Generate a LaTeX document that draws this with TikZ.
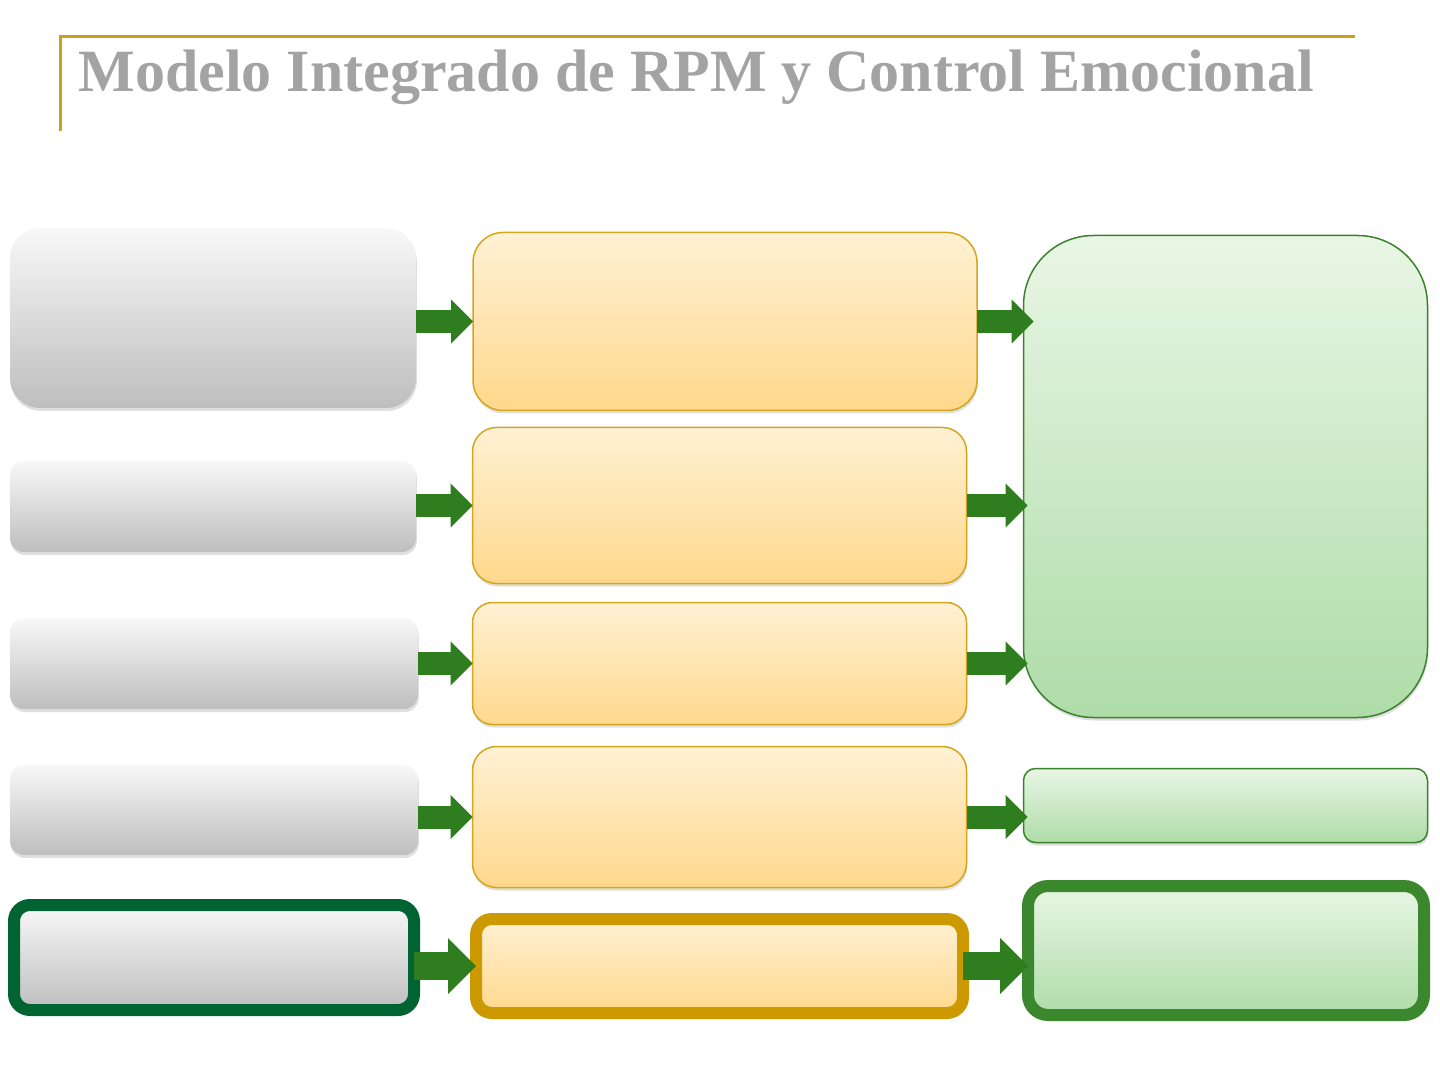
\documentclass[tikz,border=0pt]{standalone}
\usepackage{fontspec}
\setmainfont{Liberation Serif}
\usetikzlibrary{arrows.meta}
\usetikzlibrary{shadows}

\definecolor{rulegold}{RGB}{201,161,27}
\definecolor{titlegray}{RGB}{163,163,163}
\definecolor{arrowgreen}{RGB}{46,125,31}
\definecolor{graytop}{RGB}{248,248,248}
\definecolor{graybot}{RGB}{190,190,190}
\definecolor{orangetop}{RGB}{255,241,212}
\definecolor{orangebot}{RGB}{255,216,140}
\definecolor{orangeline}{RGB}{214,165,30}
\definecolor{greentop}{RGB}{233,246,229}
\definecolor{greenbot}{RGB}{174,220,168}
\definecolor{greenline}{RGB}{60,130,45}
\definecolor{darkgreenline}{RGB}{0,100,50}
\definecolor{goldline}{RGB}{204,153,0}
\definecolor{boldgreenline}{RGB}{58,135,46}

\tikzset{
  box/.style={inner sep=0pt, outer sep=0pt,
    drop shadow={shadow xshift=0.4pt, shadow yshift=-1.5pt, opacity=0.25}},
  graybox/.style={box, top color=graytop, bottom color=graybot},
  orangebox/.style={box, top color=orangetop, bottom color=orangebot, draw=orangeline, line width=0.75pt},
  greenbox/.style={box, top color=greentop, bottom color=greenbot, draw=greenline, line width=0.75pt},
  flow/.style={draw=arrowgreen, line width=11.5pt,
    -{Triangle[width=22pt,length=11pt,line width=0pt]}},
  flowbig/.style={draw=arrowgreen, line width=14pt,
    -{Triangle[width=28pt,length=14pt,line width=0pt]}},
}

\begin{document}
\begin{tikzpicture}[x=0.5pt,y=-0.5pt]
\useasboundingbox (0,0) rectangle (1440,1080);

% Title
\draw[rulegold, line width=1.5pt] (60,131) -- (60,37) -- (1355,37);
\node[anchor=base west, inner sep=0pt, text=titlegray, font=\fontsize{30}{36}\selectfont\bfseries] (title) at (78,92) {Modelo Integrado de RPM y Control Emocional};

% Left column
\node[graybox, rounded corners=15pt, minimum width=203pt, minimum height=90pt] (g1) at (213,318) {};
\node[graybox, rounded corners=7pt, minimum width=203pt, minimum height=45.5pt] (g2) at (213,506.5) {};
\node[graybox, rounded corners=7pt, minimum width=204pt, minimum height=45.5pt] (g3) at (214,663.5) {};
\node[graybox, rounded corners=7pt, minimum width=204pt, minimum height=45pt] (g4) at (214,810) {};
\node[graybox, draw=darkgreenline, line width=6pt, rounded corners=8pt, minimum width=200pt, minimum height=52.5pt] (g5) at (214,957.5) {};

% Middle column
\node[orangebox, rounded corners=15pt, minimum width=252pt, minimum height=89pt] (o1) at (725,321.5) {};
\node[orangebox, rounded corners=12pt, minimum width=247pt, minimum height=78pt] (o2) at (719.5,505.5) {};
\node[orangebox, rounded corners=10pt, minimum width=247pt, minimum height=61pt] (o3) at (719.5,663.5) {};
\node[orangebox, rounded corners=12pt, minimum width=247pt, minimum height=70.5pt] (o4) at (719.5,817) {};
\node[orangebox, draw=goldline, line width=6pt, rounded corners=8pt, minimum width=243.5pt, minimum height=47pt] (o5) at (719.5,966) {};

% Right column
\node[greenbox, rounded corners=35pt, minimum width=202pt, minimum height=241pt] (r1) at (1225.5,476.5) {};
\node[greenbox, rounded corners=6pt, minimum width=202pt, minimum height=37pt] (r2) at (1225.5,805.5) {};
\node[greenbox, draw=boldgreenline, line width=6pt, rounded corners=10pt, minimum width=198pt, minimum height=64.5pt] (r3) at (1226,950.5) {};

% Connections left to middle
\draw[flow] (o1.west -| g1.east) -- (o1.west);
\draw[flow] (o2.west -| g2.east) -- (o2.west);
\draw[flow] (o3.west -| g3.east) -- (o3.west);
\draw[flow] (o4.west -| g4.east) -- (o4.west);
\draw[flowbig] (o5.west -| g5.east) -- (o5.west);

% Connections middle to right
\draw[flow, shorten >=-5pt] (o1.east) -- (o1.east -| r1.west);
\draw[flow, shorten >=-2pt] (o2.east) -- (o2.east -| r1.west);
\draw[flow, shorten >=-2pt] (o3.east) -- (o3.east -| r1.west);
\draw[flow, shorten >=-2pt] (o4.east) -- (o4.east -| r2.west);
\draw[flowbig] (o5.east) -- (o5.east -| r3.west);

\end{tikzpicture}
\end{document}
